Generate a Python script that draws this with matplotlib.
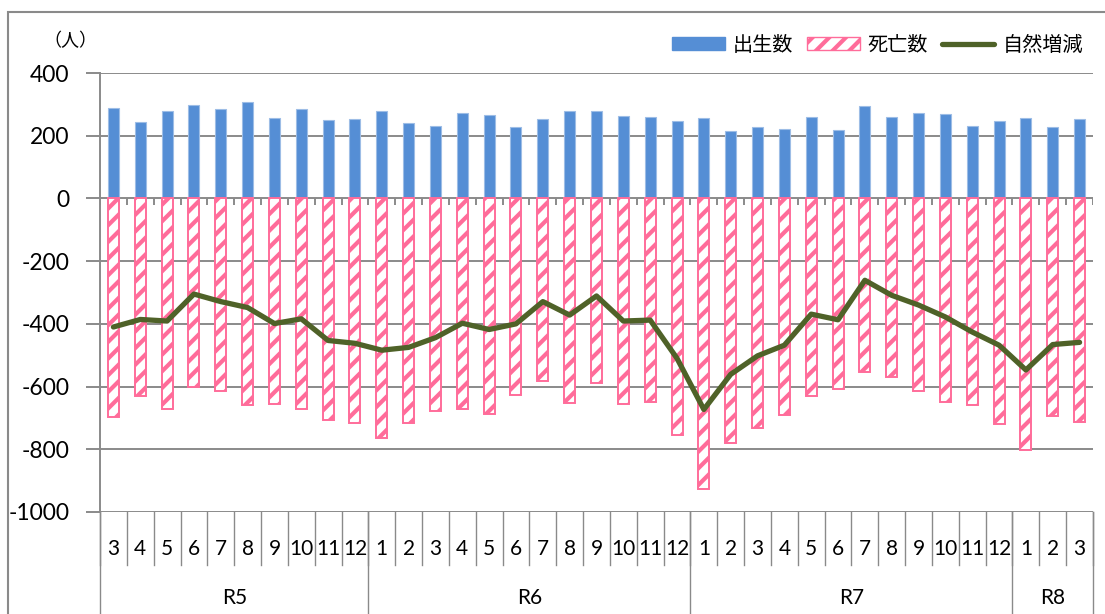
import numpy as np
import matplotlib
matplotlib.use("Agg")
import matplotlib.pyplot as plt
from matplotlib.patches import Patch, Rectangle
from matplotlib.lines import Line2D
import matplotlib.transforms as mtrans

plt.rcParams['font.family'] = ['Lato', 'Noto Sans CJK JP', 'DejaVu Sans']
plt.rcParams['axes.unicode_minus'] = False
plt.rcParams['hatch.linewidth'] = 3.0

# months R5.3 - R8.3
years = ['R5'] * 10 + ['R6'] * 12 + ['R7'] * 12 + ['R8'] * 3
months = [3, 4, 5, 6, 7, 8, 9, 10, 11, 12,
          1, 2, 3, 4, 5, 6, 7, 8, 9, 10, 11, 12,
          1, 2, 3, 4, 5, 6, 7, 8, 9, 10, 11, 12,
          1, 2, 3]

births = [288, 243, 280, 297, 286, 309, 257, 286, 251, 252,
          280, 240, 232, 273, 266, 228, 252, 278, 278, 263, 260, 247,
          255, 216, 229, 222, 259, 219, 294, 259, 272, 268, 230, 248,
          255, 228, 254]
deaths = [-697, -630, -673, -602, -615, -658, -657, -670, -707, -717,
          -765, -716, -678, -672, -686, -628, -583, -651, -590, -655, -650, -755,
          -927, -779, -732, -691, -630, -608, -554, -569, -613, -648, -659, -718,
          -803, -693, -714]
natural = [-410, -386, -391, -305, -329, -348, -399, -384, -453, -462,
           -484, -475, -444, -398, -418, -400, -329, -372, -311, -391, -388, -510,
           -673, -561, -502, -468, -369, -387, -261, -309, -340, -378, -426, -468,
           -547, -466, -459]

blue = '#558ED5'
pink = '#FF6C9A'
green = '#4F6228'
grey = '#8A8A8A'

fig = plt.figure(figsize=(11.05, 6.14), dpi=100)
W, H = 1105, 614
ax = fig.add_axes([100 / W, 1 - 512 / H, (1093 - 100) / W, (512 - 73) / H])

n = len(months)
x = np.arange(n)

ax.bar(x, births, width=0.41, color=blue, edgecolor='#9DBDE6', linewidth=0.8, zorder=3)
ax.bar(x, deaths, width=0.41, color='white', edgecolor=pink, hatch='//', linewidth=1.4, zorder=3)
ax.plot(x, natural, color=green, linewidth=3.8, solid_capstyle='round', zorder=4)

ax.set_xlim(-0.5, n - 0.5)
ax.set_ylim(-1000, 400)
ax.set_yticks(np.arange(-1000, 401, 200))
ax.yaxis.grid(True, color=grey, linewidth=1.4, zorder=0)
ax.set_axisbelow(True)
ax.set_xticks([])
ax.tick_params(axis='y', length=10, width=1.4, color=grey, pad=12, labelsize=16.5)
for s in ['top', 'right', 'bottom']:
    ax.spines[s].set_visible(False)
ax.spines['left'].set_color(grey)
ax.spines['left'].set_linewidth(1.4)

# small tick marks on the zero line
ax.vlines(np.arange(n + 1) - 0.5, -22, 0, color=grey, linewidth=1.4, zorder=2)

# category table under the plot
tr = mtrans.blended_transform_factory(ax.transData, ax.transAxes)
for b in np.arange(n + 1) - 0.5:
    ax.plot([b, b], [0, -0.121], color=grey, linewidth=1.0, transform=tr, clip_on=False)
for i, m in enumerate(months):
    ax.text(i, -0.084, str(m), transform=tr, ha='center', va='center', fontsize=15)

edges = [0]
for i in range(1, n):
    if years[i] != years[i - 1]:
        edges.append(i)
edges.append(n)
for k in range(len(edges) - 1):
    a, b = edges[k], edges[k + 1]
    ax.text((a + b - 1) / 2, -0.196, years[a], transform=tr, ha='center', va='center', fontsize=15)
for e in edges:
    ax.plot([e - 0.5, e - 0.5], [0, -0.3], color=grey, linewidth=1.0, transform=tr, clip_on=False)

# unit label
fig.text(70 / W, 1 - 40 / H, '（人）', ha='center', va='center', fontsize=13)

handles = [Patch(facecolor=blue, edgecolor=blue),
           Patch(facecolor='white', edgecolor=pink, hatch='//'),
           Line2D([0], [0], color=green, linewidth=3.8, solid_capstyle='round')]
fig.legend(handles, ['出生数', '死亡数', '自然増減'], loc='center right',
           bbox_to_anchor=(1083 / W, 1 - 44 / H), bbox_transform=fig.transFigure,
           ncol=3, frameon=False, fontsize=14.5, handlelength=2.6, handleheight=0.6,
           handletextpad=0.4, columnspacing=0.7, borderpad=0, borderaxespad=0)

# chart area border
fig.patches.append(Rectangle((8 / W, -0.05), 1.1, 1 - 11.7 / H + 0.05, transform=fig.transFigure,
                             fill=False, edgecolor=grey, linewidth=1.5))

fig.savefig('out.png', dpi=100)
